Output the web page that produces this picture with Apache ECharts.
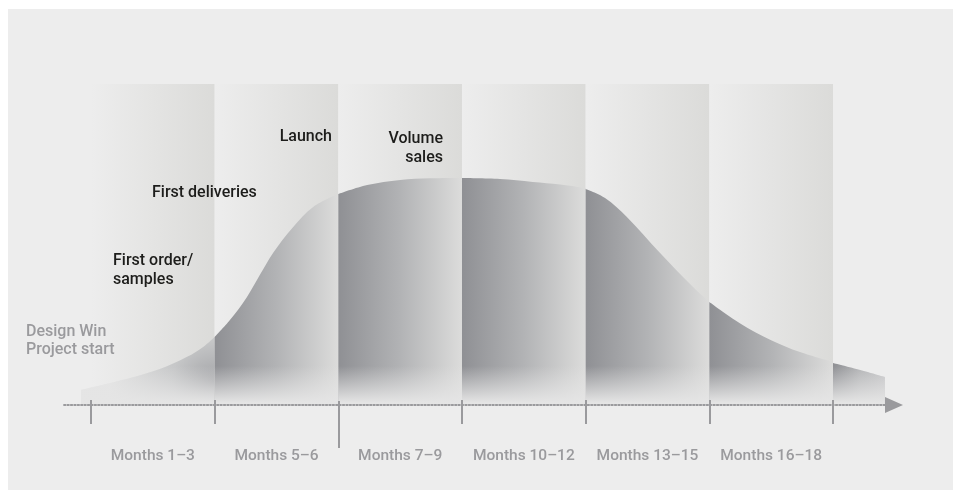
<!DOCTYPE html>
<html><head><meta charset="utf-8">
<script src="https://cdn.jsdelivr.net/npm/echarts@6/dist/echarts.min.js"></script>
<style>html,body{margin:0;padding:0;background:#fff;}#c{width:953px;height:492px;}</style>
</head><body><div id="c"></div>
<script>
// ---- data (months on x, relative volume 0-100 on y) ----
const phaseStarts = [0, 3, 6, 9, 12, 15];
const phaseEnds   = [3, 6, 9, 12, 15, 18];
const phaseLabels = ['Months 1–3', 'Months 5–6', 'Months 7–9', 'Months 10–12', 'Months 13–15', 'Months 16–18'];
const labelMonths = [1.5, 4.5, 7.5, 10.5, 13.5, 16.5];
const shortTickMonths = [0, 3, 9, 12, 15, 18];
const longTickMonths = [6];

const seg0 = [[-0.24, 4.7], [0.95, 8.4], [1.67, 11.2], [2.33, 15.0], [2.72, 18.1], [3, 21.2]];
const seg1 = [[3, 21.2], [3.37, 26.5], [3.78, 33.6], [4.42, 47.4], [4.9, 55.4], [5.39, 61.7], [6, 65.7]];
const seg2 = [[6, 65.7], [6.7, 68.5], [7.5, 70.1], [8.22, 70.6], [9, 70.7]];
const seg3 = [[9, 70.7], [9.92, 70.4], [10.72, 69.5], [11.38, 68.7], [12, 67.6]];
const seg4 = [[12, 67.3], [12.47, 64.5], [13, 58.6], [13.8, 47.4], [14.6, 36.8], [15, 32.1]];
const seg5 = [[15, 32.1], [15.74, 25.5], [16.5, 20.2], [17.2, 16.5], [18, 13.4]];
const seg6 = [[18, 13.1], [18.66, 10.9], [19.26, 8.7]];

const milestoneTexts = ['Design Win\nProject start', 'First order/\nsamples', 'First deliveries', 'Launch', 'Volume\nsales'];

// ---- chart ----
const chart = echarts.init(document.getElementById('c'), null, {renderer: 'canvas'});
const X_MIN = -0.655, X_MAX = 19.48;
const grey = '#9a9a9d';
const FONT = 'Roboto';

function horiz(endColor) {
  return new echarts.graphic.LinearGradient(0, 0, 1, 0, [
    {offset: 0, color: '#8f9094'}, {offset: 0.5, color: '#b2b3b5'}, {offset: 1, color: endColor || '#dcdcdb'}
  ]);
}
const fade = {type: 'linear', x: 0, y: 366, x2: 0, y2: 403, global: true,
  colorStops: [{offset: 0, color: 'rgba(229,229,229,0)'}, {offset: 1, color: 'rgba(229,229,229,1)'}]};
const seg0Fill = {type: 'radial', x: 214, y: 382, r: 105, global: true,
  colorStops: [{offset: 0, color: '#a3a4a7'}, {offset: 0.4, color: '#c6c7c8'}, {offset: 1, color: '#e4e4e4'}]};

const segments = [seg0, seg1, seg2, seg3, seg4, seg5, seg6];
const fills = [seg0Fill, horiz(), horiz(), horiz(), horiz(), horiz(), horiz('#c4c4c6')];

const series = [{
  type: 'custom', z: 1, silent: true,
  data: phaseStarts.map((s, i) => [s, phaseEnds[i]]),
  encode: {x: [0, 1]},
  renderItem: function (params, api) {
    const p0 = api.coord([api.value(0), 100]);
    const p1 = api.coord([api.value(1), 0]);
    return {type: 'rect', shape: {x: p0[0], y: p0[1], width: p1[0] - p0[0], height: p1[1] - p0[1]},
      style: {fill: new echarts.graphic.LinearGradient(0, 0, 1, 0, [
        {offset: 0, color: '#ededed'}, {offset: 1, color: '#dbdbd9'}])}};
  }
}];
segments.forEach((seg, i) => {
  series.push({type: 'line', data: seg, smooth: 0.35, symbol: 'none', z: 3, silent: true,
    lineStyle: {width: 0}, areaStyle: {color: fills[i], opacity: 1}});
  series.push({type: 'line', data: seg, smooth: 0.35, symbol: 'none', z: 4, silent: true,
    lineStyle: {width: 0}, areaStyle: {color: fade, opacity: 1}});
});

const annotations = [
  {x: 26, y: 323, align: 'left', color: grey, lh: 18},
  {x: 113, y: 252, align: 'left', color: '#1d1d1b', lh: 18.5},
  {x: 152, y: 184, align: 'left', color: '#1d1d1b', lh: 18},
  {x: 332, y: 128, align: 'right', color: '#1d1d1b', lh: 18},
  {x: 443, y: 129, align: 'right', color: '#1d1d1b', lh: 19}
];
const graphics = [{type: 'rect', z: -100, silent: true, shape: {x: 8, y: 9, width: 945, height: 481}, style: {fill: '#ededed'}}];
milestoneTexts.forEach((t, i) => {
  const a = annotations[i];
  graphics.push({type: 'text', z: 100, x: a.x, y: a.y, silent: true,
    style: {text: t, fill: a.color, font: '500 16px ' + FONT, align: a.align, verticalAlign: 'top', lineHeight: a.lh}});
});

const baseAxis = {type: 'value', position: 'bottom', min: X_MIN, max: X_MAX, splitLine: {show: false}};
chart.setOption({
  animation: false,
  backgroundColor: '#ffffff',
  grid: {left: 64, right: 59, top: 84, bottom: 87},
  xAxis: [
    Object.assign({}, baseAxis, {
      z: 10,
      axisLine: {show: true, symbol: ['none', 'triangle'], symbolSize: [16, 18],
        lineStyle: {color: grey, width: 1.8, type: [1.5, 1.9]}},
      axisTick: {show: false},
      axisLabel: {show: true, customValues: labelMonths, margin: 42, color: grey,
        fontFamily: FONT, fontSize: 15.5, fontWeight: 500, lineHeight: 18,
        formatter: function (v) { const i = labelMonths.indexOf(v); return i >= 0 ? phaseLabels[i] : ''; }}
    }),
    Object.assign({}, baseAxis, {
      z: 11, offset: -5,
      axisLine: {show: false},
      axisTick: {show: true, customValues: shortTickMonths, length: 24, lineStyle: {color: grey, width: 2}},
      axisLabel: {show: false}
    }),
    Object.assign({}, baseAxis, {
      z: 11, offset: -4,
      axisLine: {show: false},
      axisTick: {show: true, customValues: longTickMonths, length: 47, lineStyle: {color: grey, width: 2}},
      axisLabel: {show: false}
    })
  ],
  yAxis: {type: 'value', min: 0, max: 100, show: false},
  graphic: graphics,
  series: series
});
</script>
</body></html>
